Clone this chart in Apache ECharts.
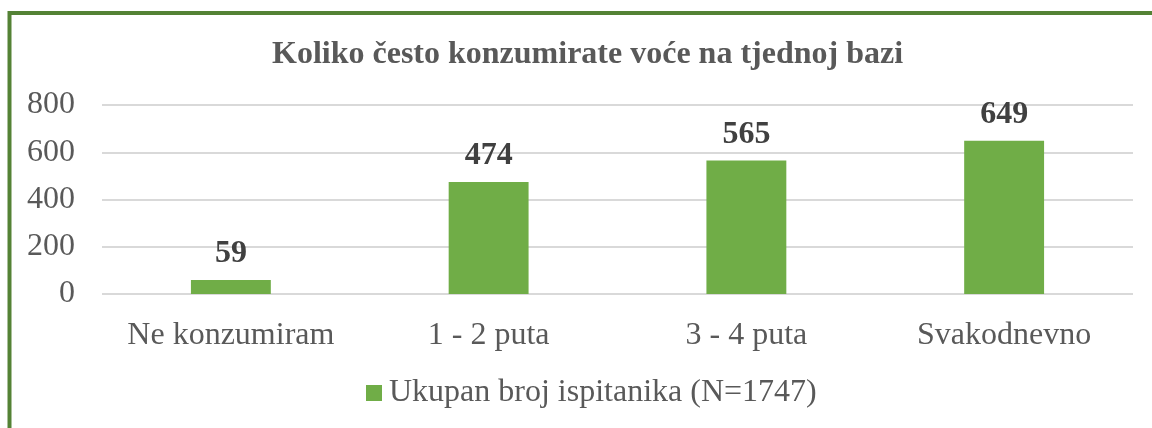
<!DOCTYPE html>
<html>
<head>
<meta charset="utf-8">
<script src="https://cdn.jsdelivr.net/npm/echarts@6/dist/echarts.min.js"></script>
<style>html,body{margin:0;padding:0;background:#fff}#c{width:1152px;height:428px}</style>
</head>
<body>
<div id="c"></div>
<script>
const titleText = 'Koliko često konzumirate voće na tjednoj bazi';
const categories = ['Ne konzumiram', '1 - 2 puta', '3 - 4 puta', 'Svakodnevno'];
const seriesName = 'Ukupan broj ispitanika (N=1747)';
const values = [59, 474, 565, 649];
const yTicks = [0, 200, 400, 600, 800];

const FONT = '"Liberation Serif", "Times New Roman", serif';
const chart = echarts.init(document.getElementById('c'), null, {renderer: 'canvas'});
chart.setOption({
  animation: false,
  backgroundColor: '#fff',
  title: {
    text: titleText,
    left: 272, top: 39, padding: 0,
    textStyle: {fontFamily: FONT, fontSize: 32, fontWeight: 'bold', color: '#595959'}
  },
  graphic: [{
    type: 'rect', silent: true,
    shape: {x: 9.5, y: 13, width: 1300, height: 600},
    style: {fill: 'none', stroke: '#548235', lineWidth: 4}
  }],
  legend: {
    data: [seriesName],
    left: 366, top: 377, padding: 0,
    itemWidth: 16, itemHeight: 16, itemGap: 8,
    icon: 'rect',
    textStyle: {fontFamily: FONT, fontSize: 32, color: '#595959', padding: [0, 0, 0, 2]}
  },
  grid: {left: 102, right: 19, top: 105, bottom: 134, containLabel: false},
  xAxis: {
    type: 'category', data: categories,
    axisLine: {show: false}, axisTick: {show: false},
    axisLabel: {fontFamily: FONT, fontSize: 32, color: '#595959', margin: 26, interval: 0}
  },
  yAxis: {
    type: 'value', min: yTicks[0], max: yTicks[yTicks.length - 1], interval: 200,
    axisLine: {show: false}, axisTick: {show: false},
    splitLine: {lineStyle: {color: '#d9d9d9', width: 2}},
    axisLabel: {fontFamily: FONT, fontSize: 32, color: '#595959', margin: 27}
  },
  series: [{
    name: seriesName, type: 'bar', data: values, barWidth: '31%',
    itemStyle: {color: '#70AD47'},
    label: {show: true, position: 'top', distance: 10,
      fontFamily: FONT, fontSize: 32, fontWeight: 'bold', color: '#404040'}
  }]
});
</script>
</body>
</html>
